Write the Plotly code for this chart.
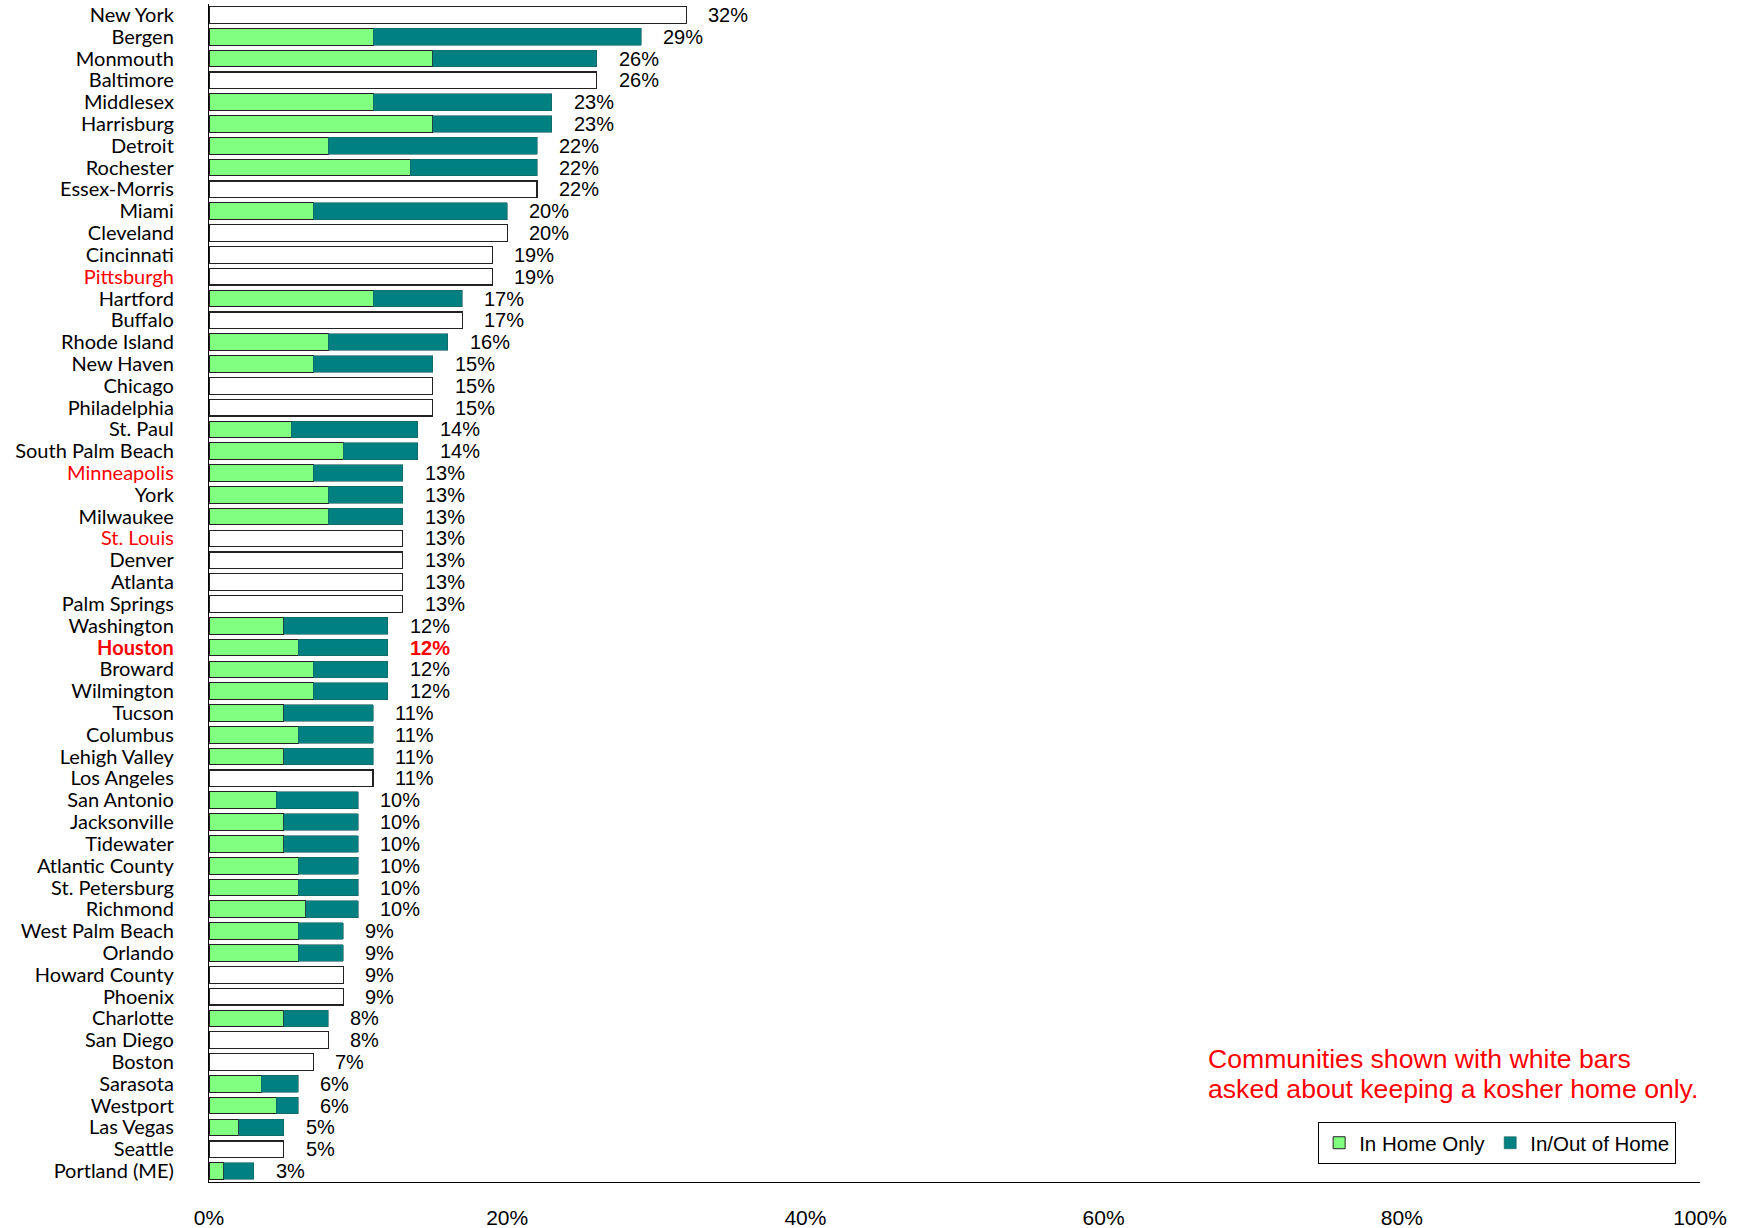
import plotly.graph_objects as go

# Communities, top to bottom
communities = [
    "New York", "Bergen", "Monmouth", "Baltimore", "Middlesex", "Harrisburg",
    "Detroit", "Rochester", "Essex-Morris", "Miami", "Cleveland", "Cincinnati",
    "Pittsburgh", "Hartford", "Buffalo", "Rhode Island", "New Haven", "Chicago",
    "Philadelphia", "St. Paul", "South Palm Beach", "Minneapolis", "York",
    "Milwaukee", "St. Louis", "Denver", "Atlanta", "Palm Springs", "Washington",
    "Houston", "Broward", "Wilmington", "Tucson", "Columbus", "Lehigh Valley",
    "Los Angeles", "San Antonio", "Jacksonville", "Tidewater", "Atlantic County",
    "St. Petersburg", "Richmond", "West Palm Beach", "Orlando", "Howard County",
    "Phoenix", "Charlotte", "San Diego", "Boston", "Sarasota", "Westport",
    "Las Vegas", "Seattle", "Portland (ME)",
]

# Total percent keeping kosher
totals = [
    32, 29, 26, 26, 23, 23, 22, 22, 22, 20, 20, 19, 19, 17, 17, 16, 15, 15,
    15, 14, 14, 13, 13, 13, 13, 13, 13, 13, 12, 12, 12, 12, 11, 11, 11, 11,
    10, 10, 10, 10, 10, 10, 9, 9, 9, 9, 8, 8, 7, 6, 6, 5, 5, 3,
]

# Percent keeping kosher in home only (None = community asked about home only)
in_home_only = [
    None, 11, 15, None, 11, 15, 8, 13.5, None, 7, None, None, None, 11, None,
    8, 7, None, None, 5.5, 9, 7, 8, 8, None, None, None, None, 5, 6, 7, 7,
    5, 6, 5, None, 4.5, 5, 5, 6, 6, 6.5, 6, 6, None, None, 5, None, None,
    3.5, 4.5, 2, None, 1,
]

x_ticks = [0, 20, 40, 60, 80, 100]
x_tick_labels = ["0%", "20%", "40%", "60%", "80%", "100%"]

note_lines = [
    "Communities shown with white bars",
    "asked about keeping a kosher home only.",
]

highlight = {"Pittsburgh", "Minneapolis", "St. Louis"}
focus = "Houston"

in_out = [t - h if h is not None else None for t, h in zip(totals, in_home_only)]
home_question_only = [t if h is None else None for t, h in zip(totals, in_home_only)]

tick_text = []
for c in communities:
    if c == focus:
        tick_text.append(f"<span style='color:#FF0000'><b>{c}</b></span>")
    elif c in highlight:
        tick_text.append(f"<span style='color:#FF0000'>{c}</span>")
    else:
        tick_text.append(c)

label_font = "Lato, Calibri, sans-serif"
arial = "Liberation Sans, Arial, sans-serif"

fig = go.Figure()
fig.add_trace(go.Bar(
    y=communities, x=in_home_only, orientation="h", name="In Home Only",
    marker=dict(color="#80FF80", line=dict(color="#222222", width=1)),
))
fig.add_trace(go.Bar(
    y=communities, x=in_out, orientation="h", name="In/Out of Home",
    marker=dict(color="#008080", line=dict(color="#1a5e5e", width=0.6)),
))
fig.add_trace(go.Bar(
    y=communities, x=home_question_only, orientation="h", showlegend=False,
    marker=dict(color="#FFFFFF", line=dict(color="#222222", width=1.2)),
))

# value labels just right of each bar end
for c, t in zip(communities, totals):
    is_focus = c == focus
    txt = f"{t}%"
    if is_focus:
        txt = f"<b>{txt}</b>"
    fig.add_annotation(
        x=t, y=c, xref="x", yref="y", text=txt, showarrow=False,
        xanchor="left", yanchor="middle", xshift=20,
        font=dict(family=arial, size=20,
                  color="#FF0000" if is_focus else "#000000"),
    )

# red note above the legend
for line, ypos in zip(note_lines, [0.1044, 0.079]):
    fig.add_annotation(
        xref="paper", yref="paper", x=0.6687, y=ypos,
        xanchor="left", yanchor="middle", text=line, showarrow=False,
        font=dict(family=arial, size=26.6, color="#FF0000"),
    )

fig.update_layout(
    width=1748, height=1228,
    margin=dict(l=209, r=48, t=4, b=46, autoexpand=False),
    barmode="stack", bargap=0.235,
    plot_bgcolor="white", paper_bgcolor="white",
    legend=dict(
        orientation="h", x=0.984, y=0.051, xanchor="right", yanchor="top",
        bgcolor="white", bordercolor="#000000", borderwidth=1,
        font=dict(family=arial, size=20.5, color="#000000"),
        traceorder="normal", itemwidth=30,
    ),
    xaxis=dict(
        range=[0, 100], tickvals=x_ticks, ticktext=x_tick_labels,
        showgrid=False, zeroline=False, showline=True, linecolor="#000000",
        linewidth=1.3, ticks="", ticklabelstandoff=17, automargin=False,
        tickfont=dict(family=arial, size=21, color="#000000"),
    ),
    yaxis=dict(
        categoryorder="array", categoryarray=communities,
        range=[len(communities) - 0.5, -0.5],
        tickvals=communities, ticktext=tick_text,
        showgrid=False, zeroline=False, showline=True, linecolor="#000000",
        linewidth=1.3, ticks="", ticklabelstandoff=30, automargin=False,
        tickfont=dict(family=label_font, size=20, color="#000000"),
    ),
)

fig.write_html("out.html")
